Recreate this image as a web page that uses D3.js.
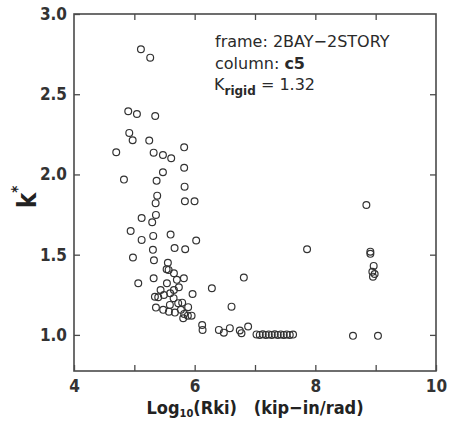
<!DOCTYPE html>
<html>
<head>
<meta charset="utf-8">
<script src="https://cdn.jsdelivr.net/npm/d3@7"></script>
<style>
  html, body { margin: 0; padding: 0; background: #fff; }
  svg { display: block; }
  .tick text { font-family: "DejaVu Sans Condensed", "DejaVu Sans", sans-serif; font-stretch: condensed; font-weight: bold; fill: #333; }
</style>
</head>
<body>
<svg id="chart" width="451" height="422"></svg>
<script>
// log10(Rki) values
const xValues = [
  5.109, 5.263, 4.899, 5.043, 5.346, 4.916, 4.972, 5.247, 4.700, 5.320,
  5.474, 5.611, 5.826, 5.826, 5.474, 4.828, 5.369, 5.833, 5.379, 5.353,
  5.838, 5.998, 5.358, 5.121, 5.296, 4.939, 5.313, 5.121, 5.601, 6.025,
  5.308, 5.667, 5.843, 4.977, 5.325, 5.556, 5.535, 5.568, 5.656, 5.320,
  5.705, 5.821, 5.065, 5.540, 5.738, 5.435, 5.656, 6.285, 5.341, 5.396,
  5.490, 5.594, 5.965, 5.651, 5.727, 5.793, 5.589, 5.892, 5.358, 5.478,
  5.573, 5.672, 5.772, 5.826, 5.949, 5.887, 5.810, 6.611, 6.124, 6.131,
  6.401, 6.483, 6.583, 6.748, 6.776, 6.886, 6.815,
  7.025, 7.079, 7.129, 7.179, 7.228, 7.278, 7.328, 7.377, 7.427, 7.477, 7.526, 7.576, 7.631,
  8.624, 9.038, 7.863, 8.846, 8.912, 8.912, 8.967, 8.945, 8.983, 8.955
];
// k* values
const kValues = [
  2.780, 2.728, 2.394, 2.377, 2.364, 2.259, 2.213, 2.211, 2.138, 2.136,
  2.121, 2.101, 2.169, 2.042, 2.014, 1.968, 1.960, 1.924, 1.868, 1.821,
  1.833, 1.833, 1.748, 1.729, 1.702, 1.648, 1.617, 1.592, 1.625, 1.588,
  1.530, 1.542, 1.534, 1.482, 1.465, 1.450, 1.409, 1.405, 1.384, 1.353,
  1.343, 1.353, 1.322, 1.322, 1.297, 1.280, 1.280, 1.291, 1.238, 1.235,
  1.249, 1.260, 1.255, 1.229, 1.198, 1.201, 1.187, 1.173, 1.170, 1.156,
  1.145, 1.139, 1.156, 1.131, 1.120, 1.120, 1.104, 1.176, 1.062, 1.031,
  1.031, 1.014, 1.042, 1.027, 1.011, 1.052, 1.357,
  1.003, 1.000, 1.004, 1.000, 1.003, 1.000, 1.004, 1.000, 1.003, 1.000, 1.003, 1.000, 1.002,
  0.994, 0.994, 1.534, 1.810, 1.519, 1.505, 1.430, 1.394, 1.380, 1.363
];
const xTicks = [4, 5, 6, 7, 8, 9, 10];
const xTickLabels = [4, 6, 8, 10];
const yTicks = [1.0, 1.5, 2.0, 2.5, 3.0];
const frameName = "2BAY\u22122STORY";
const columnName = "c5";
const kRigid = "1.32";

(function () {
const svg = d3.select("#chart");
const mL = 74, mR = 436, mT = 14, mB = 371;
const x = d3.scaleLinear().domain([4, 10]).range([mL, mR]);
const y = d3.scaleLinear().domain([0.775, 3.0]).range([mB, mT]);
const axisColor = "#4a4a4a";

const gB = svg.append("g").attr("transform", `translate(0,${mB})`)
  .call(d3.axisBottom(x).tickValues(xTicks).tickSizeInner(-6).tickSizeOuter(0).tickPadding(9)
    .tickFormat(d => xTickLabels.includes(d) ? d3.format("d")(d) : ""));
const gT = svg.append("g").attr("transform", `translate(0,${mT})`)
  .call(d3.axisTop(x).tickValues(xTicks.slice(1, -1)).tickSizeInner(-6).tickSizeOuter(0).tickFormat(""));
const gL = svg.append("g").attr("transform", `translate(${mL},0)`)
  .call(d3.axisLeft(y).tickValues(yTicks).tickSizeInner(-6).tickSizeOuter(0).tickPadding(7)
    .tickFormat(d3.format(".1f")));
const gR = svg.append("g").attr("transform", `translate(${mR},0)`)
  .call(d3.axisRight(y).tickValues(yTicks.slice(0, -1)).tickSizeInner(-6).tickSizeOuter(0).tickFormat(""));

[gB, gT, gL, gR].forEach(g => {
  g.select(".domain").remove();
  g.selectAll(".tick line").attr("stroke", axisColor).attr("stroke-width", 1.3);
});
gB.selectAll(".tick text").attr("font-size", 17);
gL.selectAll(".tick text").attr("font-size", 17);

svg.append("rect")
  .attr("x", mL).attr("y", mT)
  .attr("width", mR - mL).attr("height", mB - mT)
  .attr("fill", "none").attr("stroke", axisColor).attr("stroke-width", 1.6);

const pts = xValues.map((v, i) => ({ x: v, k: kValues[i] }));
svg.append("g").selectAll("circle").data(pts).join("circle")
  .attr("cx", d => x(d.x)).attr("cy", d => y(d.k))
  .attr("r", 3.4)
  .attr("fill", "none").attr("stroke", "#333").attr("stroke-width", 1.2);

const ann = svg.append("g")
  .attr("font-family", "'DejaVu Sans', sans-serif").attr("font-size", 16).attr("fill", "#2a2a2a");
ann.append("text").attr("x", 215).attr("y", 47).text("frame: " + frameName);
const col = ann.append("text").attr("x", 215).attr("y", 69);
col.append("tspan").text("column: ");
col.append("tspan").attr("font-weight", "bold").text(columnName);
const kr = ann.append("text").attr("x", 214).attr("y", 90);
kr.append("tspan").text("K");
kr.append("tspan").attr("font-size", 12).attr("font-weight", "bold").attr("dy", 5).text("rigid");
kr.append("tspan").attr("dy", -5).text(" = " + kRigid);

const yl = svg.append("text")
  .attr("transform", "translate(36,197) rotate(-90)")
  .attr("text-anchor", "middle")
  .attr("font-family", "'DejaVu Sans Condensed', 'DejaVu Sans', sans-serif")
  .attr("font-weight", "bold").attr("font-size", 26).attr("fill", "#222");
yl.append("tspan").text("k");
yl.append("tspan").attr("font-size", 15).attr("dy", -13).text("*");

const xl = svg.append("text")
  .attr("x", 255).attr("y", 414)
  .attr("text-anchor", "middle")
  .attr("font-family", "'DejaVu Sans Condensed', 'DejaVu Sans', sans-serif")
  .attr("font-stretch", "condensed")
  .attr("font-weight", "bold").attr("font-size", 18).attr("fill", "#222");
xl.append("tspan").text("Log");
xl.append("tspan").attr("font-size", 11).attr("dy", 3).text("10");
xl.append("tspan").attr("dy", -3).text("(Rki)\u00a0\u00a0\u00a0(kip\u2212in/rad)");
})();
</script>
</body>
</html>
